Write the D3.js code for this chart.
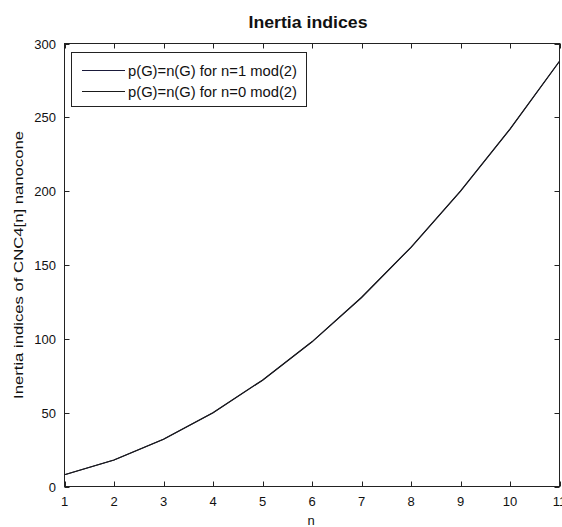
<!DOCTYPE html>
<html>
<head>
<meta charset="utf-8">
<script src="https://cdn.jsdelivr.net/npm/d3@7"></script>
<style>
  html, body { margin: 0; padding: 0; background: #fff; }
  svg { display: block; }
  text { font-family: "Liberation Sans", Arial, sans-serif; fill: #111; }
</style>
</head>
<body>
<svg id="chart" width="562" height="527"></svg>
<script>
// ---- data ----
const nValues = [1, 2, 3, 4, 5, 6, 7, 8, 9, 10, 11];
const seriesOdd = [8, 18, 32, 50, 72, 98, 128, 162, 200, 242, 288];   // p(G)=n(G) for n=1 mod(2)
const seriesEven = [8, 18, 32, 50, 72, 98, 128, 162, 200, 242, 288];  // p(G)=n(G) for n=0 mod(2)
const seriesNames = ["p(G)=n(G) for n=1 mod(2)", "p(G)=n(G) for n=0 mod(2)"];
const xTicks = [1, 2, 3, 4, 5, 6, 7, 8, 9, 10, 11];
const yTicks = [0, 50, 100, 150, 200, 250, 300];

(function () {
  // ---- layout ----
  const svg = d3.select("#chart");
  const L = 64.5, R = 559.5, T = 43.5, B = 486.5;
  const x = d3.scaleLinear().domain([1, 11]).range([L, R]);
  const y = d3.scaleLinear().domain([0, 300]).range([B, T]);
  const tickLen = 5;

  const g = svg.append("g");

  // axes box
  g.append("rect")
    .attr("x", L).attr("y", T)
    .attr("width", R - L).attr("height", B - T)
    .attr("fill", "none").attr("stroke", "#222").attr("stroke-width", 1);

  // x ticks (inward, bottom and top)
  xTicks.forEach(t => {
    const px = Math.round(x(t)) + 0.5;
    g.append("line").attr("x1", px).attr("x2", px).attr("y1", B).attr("y2", B - tickLen)
      .attr("stroke", "#222");
    g.append("line").attr("x1", px).attr("x2", px).attr("y1", T).attr("y2", T + tickLen)
      .attr("stroke", "#222");
    g.append("text").attr("x", x(t)).attr("y", 506)
      .attr("text-anchor", "middle").attr("font-size", 13).text(t);
  });

  // y ticks (inward, left and right)
  yTicks.forEach(t => {
    const py = Math.round(y(t)) + 0.5;
    g.append("line").attr("x1", L).attr("x2", L + tickLen).attr("y1", py).attr("y2", py)
      .attr("stroke", "#222");
    g.append("line").attr("x1", R).attr("x2", R - tickLen).attr("y1", py).attr("y2", py)
      .attr("stroke", "#222");
    g.append("text").attr("x", 56).attr("y", y(t) + 5)
      .attr("text-anchor", "end").attr("font-size", 13).text(t);
  });

  // lines
  const line = d3.line().x((d, i) => x(nValues[i])).y(d => y(d));
  [seriesOdd, seriesEven].forEach((s, k) => {
    g.append("path").datum(s)
      .attr("d", line)
      .attr("fill", "none")
      .attr("stroke", k === 0 ? "#1a1a3a" : "#1a1a1a")
      .attr("stroke-width", 1.1);
  });

  // title
  svg.append("text").attr("x", 308).attr("y", 28)
    .attr("text-anchor", "middle").attr("font-size", 17).attr("font-weight", "bold")
    .attr("textLength", 119).attr("lengthAdjust", "spacingAndGlyphs")
    .text("Inertia indices");

  // x label
  svg.append("text").attr("x", 311).attr("y", 525)
    .attr("text-anchor", "middle").attr("font-size", 13).text("n");

  // y label
  svg.append("text")
    .attr("transform", "translate(23,265) rotate(-90)")
    .attr("text-anchor", "middle").attr("font-size", 13)
    .attr("textLength", 268).attr("lengthAdjust", "spacingAndGlyphs")
    .text("Inertia indices of CNC4[n] nanocone");

  // legend
  const lg = svg.append("g");
  lg.append("rect").attr("x", 71.5).attr("y", 52.5).attr("width", 235).attr("height", 54)
    .attr("fill", "#fff").attr("stroke", "#222").attr("stroke-width", 1);
  const rowY = [70.5, 91.5];
  seriesNames.forEach((name, i) => {
    lg.append("line").attr("x1", 82).attr("x2", 125).attr("y1", rowY[i]).attr("y2", rowY[i])
      .attr("stroke", i === 0 ? "#1a1a3a" : "#1a1a1a").attr("stroke-width", 1.1);
    lg.append("text").attr("x", 128).attr("y", rowY[i] + 5)
      .attr("font-size", 14)
      .attr("textLength", 169).attr("lengthAdjust", "spacingAndGlyphs")
      .text(name);
  });
})();
</script>
</body>
</html>
